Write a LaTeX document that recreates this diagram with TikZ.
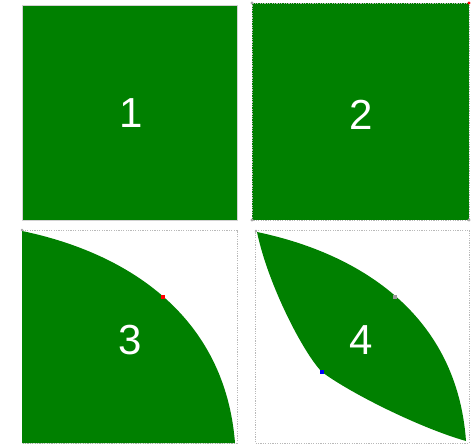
\documentclass[tikz,border=0pt]{standalone}
\usepackage{fontspec}
\setmainfont{Liberation Sans}
\definecolor{leafgreen}{RGB}{0,128,0}
\tikzset{
  frame/.style={draw=gray!55,line width=0.8pt,dash pattern=on 1.2pt off 1.2pt},
  digit/.style={text=white,font=\fontsize{42}{42}\selectfont},
  handle/.style={fill=#1,inner sep=0pt,minimum size=4pt}
}
\begin{document}
\begin{tikzpicture}[x=1pt,y=-1pt]
  \useasboundingbox (0,0) rectangle (473,446);
  % 1 and 2: plain squares
  \fill[leafgreen,draw=gray!35,line width=0.8pt] (22,5) rectangle (237,220);
  \fill[leafgreen] (252,3) rectangle (469,220);
  \draw[frame] (252,3) rectangle (469,220);
  \foreach \px/\py in {252/3, 252/220, 469/220} {
    \fill[gray!70] (\px,\py) circle (1.6pt);
  }
  \fill[red] (469,3) circle (1.6pt);
  % 3: one curved side
  \draw[frame] (22,230) rectangle (237,443);
  \fill[leafgreen] (22,231) .. controls (128,253) and (225,316) .. (235,443)
    -- (22,443) -- cycle;
  \fill[gray!70] (22,230) circle (1.4pt);
  % 4: two curved sides
  \draw[frame] (255,230) rectangle (469,443);
  \fill[leafgreen] (257,232) .. controls (362,254) and (457,316) .. (466,441)
    .. controls (420,428) and (350,393) .. (322,372)
    .. controls (304,354) and (268,285) .. (257,232) -- cycle;
  \fill[gray!70] (256,231) circle (1.4pt);
  \node[handle=red] (p3) at (163,297) {};
  \node[handle=gray!80] (q4) at (395,297) {};
  \node[handle=blue] (r4) at (322,372) {};
  \node[digit] (n1) at (131,113) {1};
  \node[digit] (n2) at (361,115) {2};
  \node[digit] (n3) at (130,340) {3};
  \node[digit] (n4) at (361,340) {4};
\end{tikzpicture}
\end{document}
